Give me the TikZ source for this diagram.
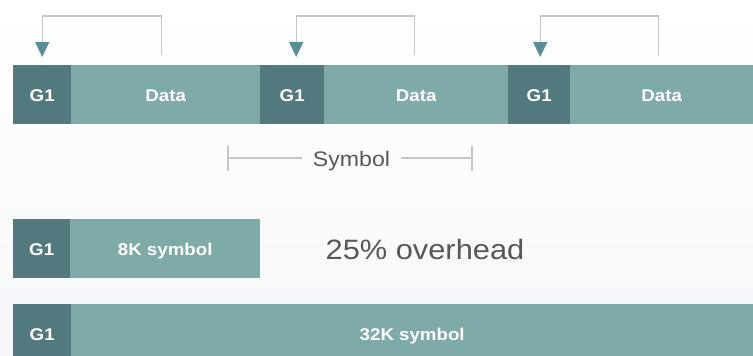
\documentclass[tikz,border=0pt]{standalone}
\usepackage{fontspec}
\usetikzlibrary{arrows.meta,calc}
\newfontfamily\labfont[FakeStretch=1.1]{Liberation Sans}
\definecolor{gdark}{HTML}{52797D}
\definecolor{glight}{HTML}{7EAAA7}
\definecolor{tipteal}{HTML}{5A8E97}
\definecolor{linegray}{HTML}{C6C6C6}
\definecolor{txtgray}{HTML}{585858}
\definecolor{bgbottom}{HTML}{F5F7FA}
\tikzset{
  gbox/.style={fill=gdark, text=white, inner sep=0pt, anchor=north west,
    minimum height=59pt, text height=14pt, text depth=0pt,
    font=\labfont\bfseries\fontsize{17}{17}\selectfont},
  dbox/.style={gbox, fill=glight},
  link/.style={draw=linegray, line width=1.3pt,
    -{Triangle[width=14pt,length=15pt,color=tipteal,fill=tipteal]}},
  dim/.style={draw=linegray, line width=1.2pt},
  graytext/.style={text=txtgray, inner sep=0pt, font=\labfont}
}
\begin{document}
\begin{tikzpicture}[x=1pt,y=-1pt]
  \useasboundingbox (0,0) rectangle (753,356);
  \shade[top color=white, bottom color=bgbottom] (0,0) rectangle (753,356);

  % guard interval + data frames
  \node[gbox, minimum width=58pt]  (g1) at (13,65)  {G1};
  \node[dbox, minimum width=189pt] (d1) at (71,65)  {Data};
  \node[gbox, minimum width=64pt]  (g2) at (260,65) {G1};
  \node[dbox, minimum width=184pt] (d2) at (324,65) {Data};
  \node[gbox, minimum width=62pt]  (g3) at (508,65) {G1};
  \node[dbox, minimum width=183pt] (d3) at (570,65) {Data};

  % cyclic prefix copies: end of data back to the guard interval
  \draw[link] ([shift={(-4.5pt,10pt)}]d1.north) |- ([yshift=49pt]g1.north) -- ([yshift=8pt]g1.north);
  \draw[link] ([shift={(-2pt,10pt)}]d2.north) |- ([shift={(4pt,49pt)}]g2.north) -- ([shift={(4pt,8pt)}]g2.north);
  \draw[link] ([shift={(-3.5pt,10pt)}]d3.north) |- ([shift={(1pt,49pt)}]g3.north) -- ([shift={(1pt,8pt)}]g3.north);

  % symbol length marker
  \coordinate (sl) at (228,158);
  \coordinate (sr) at (472,158);
  \node[graytext, font=\labfont\fontsize{21}{21}\selectfont, inner xsep=11pt, anchor=base] (sym) at (351.5,166) {Symbol};
  \draw[dim] (sl) -- (sl -| sym.west);
  \draw[dim] (sym.east |- sr) -- (sr);
  \draw[dim] ([yshift=12.5pt]sl) -- ([yshift=-12.5pt]sl);
  \draw[dim] ([yshift=12.5pt]sr) -- ([yshift=-12.5pt]sr);

  % 8K symbol
  \node[gbox, minimum width=57pt]  (g4) at (13,219) {G1};
  \node[dbox, minimum width=190pt] (s8) at (70,219) {8K symbol};
  \node[graytext, font=\labfont\fontsize{28}{28}\selectfont] (ovh) at (425,249) {25\% overhead};

  % 32K symbol
  \node[gbox, minimum width=58pt, minimum height=58pt]  (g5) at (13,304) {G1};
  \node[dbox, minimum width=682pt, minimum height=58pt] (s32) at (71,304) {32K symbol};
\end{tikzpicture}
\end{document}
